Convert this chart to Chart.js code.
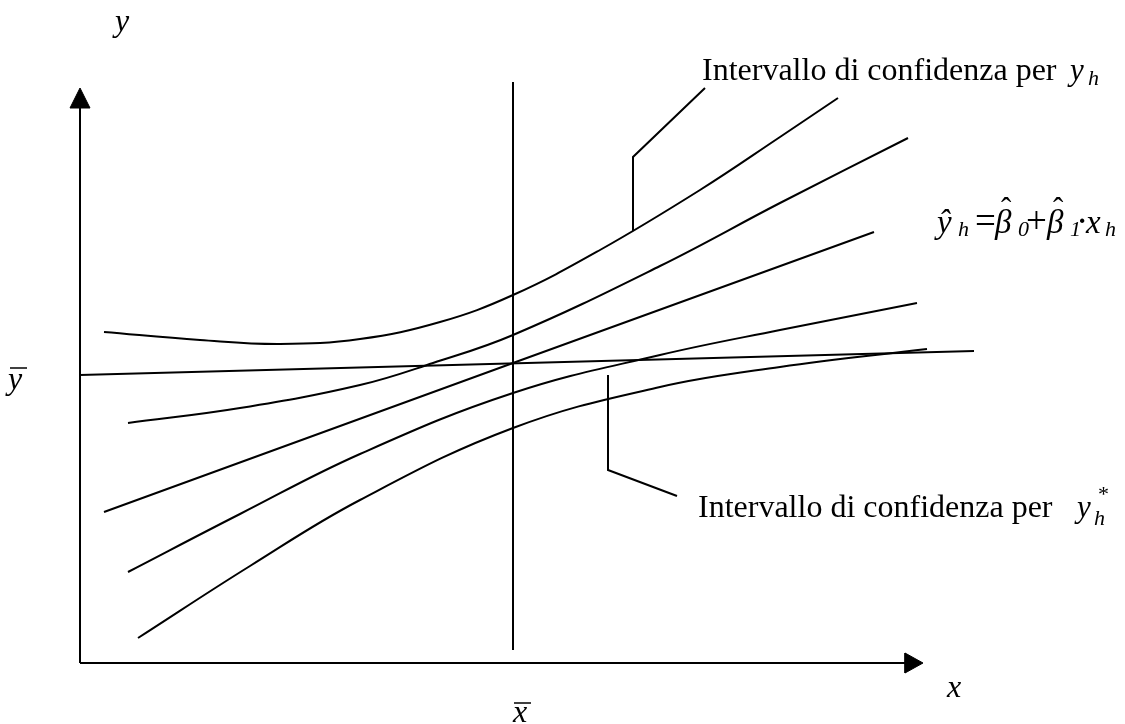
<!DOCTYPE html>
<html>
<head>
<meta charset="utf-8">
<script src="https://cdn.jsdelivr.net/npm/chart.js@4/dist/chart.umd.min.js"></script>
<style>
  html, body { margin: 0; padding: 0; background: #fff; }
  #wrap { width: 1125px; height: 724px; }
</style>
</head>
<body>
<div id="wrap"><canvas id="chart" width="1125" height="724"></canvas></div>
<script>
// schematic units: origin where the axes cross, x to the right, y upwards
const xBar = 43.3;

// curves, [x, y]
const outerUpper = [[2.4, 33.1], [12.0, 32.3], [20.0, 31.9], [28.0, 32.4], [36.0, 34.1], [43.3, 36.8], [52.0, 41.3], [62.0, 47.3], [70.0, 52.6], [75.8, 56.5]];
const innerUpper = [[4.8, 24.0], [16.0, 25.5], [28.0, 27.8], [35.3, 30.0], [43.3, 32.8], [58.0, 39.7], [70.0, 46.0], [82.8, 52.5]];
const fitted = [[2.4, 15.1], [43.3, 30.0], [79.4, 43.1]];
const meanLine = [[0, 28.8], [89.4, 31.2]];
const innerLower = [[4.8, 9.1], [16.0, 14.9], [28.0, 20.9], [43.3, 27.0], [58.0, 30.8], [70.0, 33.3], [83.7, 36.0]];
const outerLower = [[5.8, 2.5], [17.0, 9.7], [28.0, 16.3], [43.3, 23.5], [58.0, 27.6], [70.0, 29.6], [84.7, 31.4]];

// guides
const xBarLine = [[xBar, 1.3], [xBar, 58.1]];
const yAxis = [[0, 0], [0, 55.5]];
const xAxis = [[0, 0], [82.5, 0]];
const yArrow = [[0, 57.5], [-1.0, 55.5], [1.0, 55.5], [0, 57.5]];
const xArrow = [[84.3, 0], [82.5, 1.0], [82.5, -1.0], [84.3, 0]];
const leaderUpper = [[62.5, 57.5], [55.3, 50.6], [55.3, 43.2]];
const leaderLower = [[52.8, 28.8], [52.8, 19.3], [59.7, 16.7]];

const pts = a => a.map(([x, y]) => ({ x, y }));

function curve(arr) {
  return { data: pts(arr), borderColor: '#000', borderWidth: 2, pointRadius: 0, fill: false, tension: 0.4 };
}
function poly(arr) {
  return { data: pts(arr), borderColor: '#000', borderWidth: 2, pointRadius: 0, fill: false, tension: 0 };
}
function arrow(arr) {
  return { data: pts(arr), borderColor: '#000', backgroundColor: '#000', borderWidth: 1, pointRadius: 0, fill: 'shape', tension: 0 };
}

const SERIF = '"Liberation Serif", "Times New Roman", serif';

// text runs: [text, x, baseline y, font]
const labels = [
  ['Intervallo di confidenza per', 62.2, 58.3, '32px'],
  ['y', 99.0, 58.3, 'italic 31px'],
  ['h', 100.8, 57.8, 'italic 22px'],
  ['Intervallo di confidenza per', 61.8, 14.6, '32px'],
  ['y', 99.7, 14.6, 'italic 31px'],
  ['h', 101.4, 13.8, 'italic 22px'],
  ['*', 101.8, 16.2, '22px'],
  // ŷh = β̂0 + β̂1 · xh
  ['ŷ', 85.7, 43.0, 'italic 33px'],
  ['h', 87.8, 42.7, 'italic 22px'],
  ['=', 89.5, 43.0, '37px'],
  ['β', 91.5, 43.0, 'italic 33px'],
  ['ˆ', 92.1, 44.4, '31px'],
  ['0', 93.8, 42.7, 'italic 22px'],
  ['+', 94.6, 43.0, '37px'],
  ['β', 96.7, 43.0, 'italic 33px'],
  ['ˆ', 97.3, 44.4, '31px'],
  ['1', 99.0, 42.7, 'italic 22px'],
  ['·', 99.6, 43.0, '37px'],
  ['x', 100.6, 43.0, 'italic 33px'],
  ['h', 102.5, 42.7, 'italic 22px'],
  // axis names
  ['y', 3.5, 63.2, 'italic 32px'],
  ['y', -7.2, 27.4, 'italic 32px'],
  ['x', 86.7, -3.4, 'italic 32px'],
  ['x', 43.3, -5.9, 'italic 32px']
];
// bars over ȳ and x̄: [x0, x1, y]
const bars = [[-7.0, -5.3, 29.5], [43.4, 45.1, -4.0]];

const textPlugin = {
  id: 'schemaText',
  afterDraw(chart) {
    const { ctx, scales: { x, y } } = chart;
    ctx.save();
    ctx.fillStyle = '#000';
    ctx.textBaseline = 'alphabetic';
    ctx.textAlign = 'left';
    labels.forEach(([t, lx, ly, f]) => {
      ctx.font = f + ' ' + SERIF;
      ctx.fillText(t, x.getPixelForValue(lx), y.getPixelForValue(ly));
    });
    ctx.strokeStyle = '#000';
    ctx.lineWidth = 1.5;
    bars.forEach(([a, b, h]) => {
      ctx.beginPath();
      ctx.moveTo(x.getPixelForValue(a), y.getPixelForValue(h));
      ctx.lineTo(x.getPixelForValue(b), y.getPixelForValue(h));
      ctx.stroke();
    });
    ctx.restore();
  }
};

new Chart(document.getElementById('chart'), {
  type: 'line',
  data: {
    datasets: [
      poly(yAxis), poly(xAxis), arrow(yArrow), arrow(xArrow),
      poly(xBarLine), poly(meanLine),
      curve(outerUpper), curve(innerUpper), poly(fitted), curve(innerLower), curve(outerLower),
      poly(leaderUpper), poly(leaderLower)
    ]
  },
  options: {
    responsive: false,
    animation: false,
    devicePixelRatio: 1,
    layout: { padding: 0 },
    plugins: { legend: { display: false }, tooltip: { enabled: false } },
    scales: {
      x: { type: 'linear', display: false, min: -8, max: 104.5 },
      y: { type: 'linear', display: false, min: -6.1, max: 66.3 }
    }
  },
  plugins: [textPlugin]
});
</script>
</body>
</html>
